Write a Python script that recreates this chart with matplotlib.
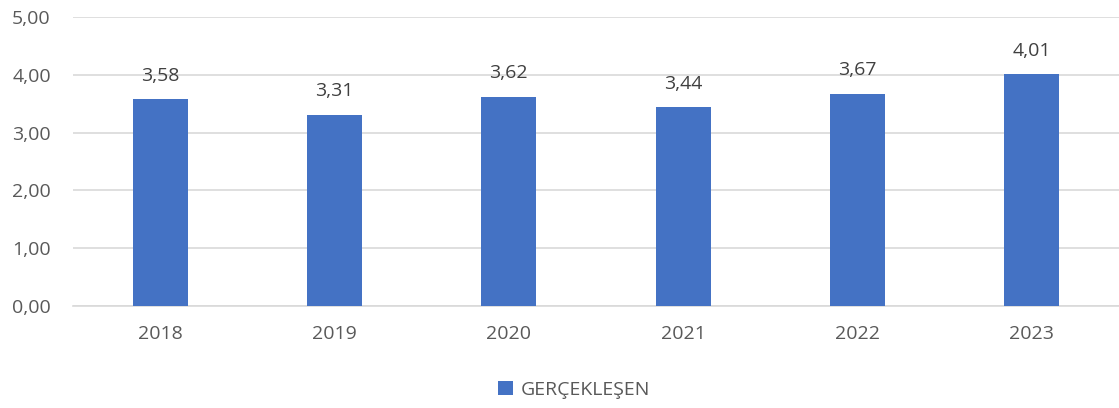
import matplotlib
matplotlib.use("Agg")
import matplotlib.pyplot as plt
from matplotlib.ticker import FuncFormatter

years = ["2018", "2019", "2020", "2021", "2022", "2023"]
values = [3.58, 3.31, 3.62, 3.44, 3.67, 4.01]
series_name = "GERÇEKLEŞEN"

plt.rcParams['font.family'] = ['Open Sans', 'DejaVu Sans']

fig = plt.figure(figsize=(11.19, 4.08), dpi=100)
ax = fig.add_axes([73/1119, 1 - 306/408, (1119 - 73)/1119, (306 - 17)/408])

x = list(range(len(years)))
bars = ax.bar(x, values, width=0.315, color="#4472C4", zorder=3, label=series_name)
for xi, v in zip(x, values):
    ax.text(xi, v + 0.25, f"{v:.2f}".replace(".", ","), ha="center", va="bottom",
            fontsize=14, color="#404040")

ax.set_xlim(-0.5, len(years) - 0.5)
ax.set_ylim(0, 5)
ax.set_yticks([0, 1, 2, 3, 4, 5])
ax.yaxis.set_major_formatter(FuncFormatter(lambda v, p: f"{v:.2f}".replace(".", ",")))
ax.set_xticks(x)
ax.set_xticklabels(years)
ax.grid(axis="y", color="#D9D9D9", linewidth=1.2, zorder=0)
for s in ["top", "right", "left"]:
    ax.spines[s].set_visible(False)
ax.spines["bottom"].set_color("#D9D9D9")
ax.spines["bottom"].set_linewidth(1.2)
ax.tick_params(axis="both", length=0, labelsize=14, colors="#595959")
ax.tick_params(axis="y", pad=16)
ax.tick_params(axis="x", pad=14)

leg = fig.legend(handles=[bars], labels=[series_name], loc="center",
                 bbox_to_anchor=(0.513, 1 - 390/408), frameon=False, fontsize=14,
                 handlelength=0.75, handleheight=0.75, handletextpad=0.4)
for t in leg.get_texts():
    t.set_color("#595959")

fig.savefig("out.png", dpi=100)
